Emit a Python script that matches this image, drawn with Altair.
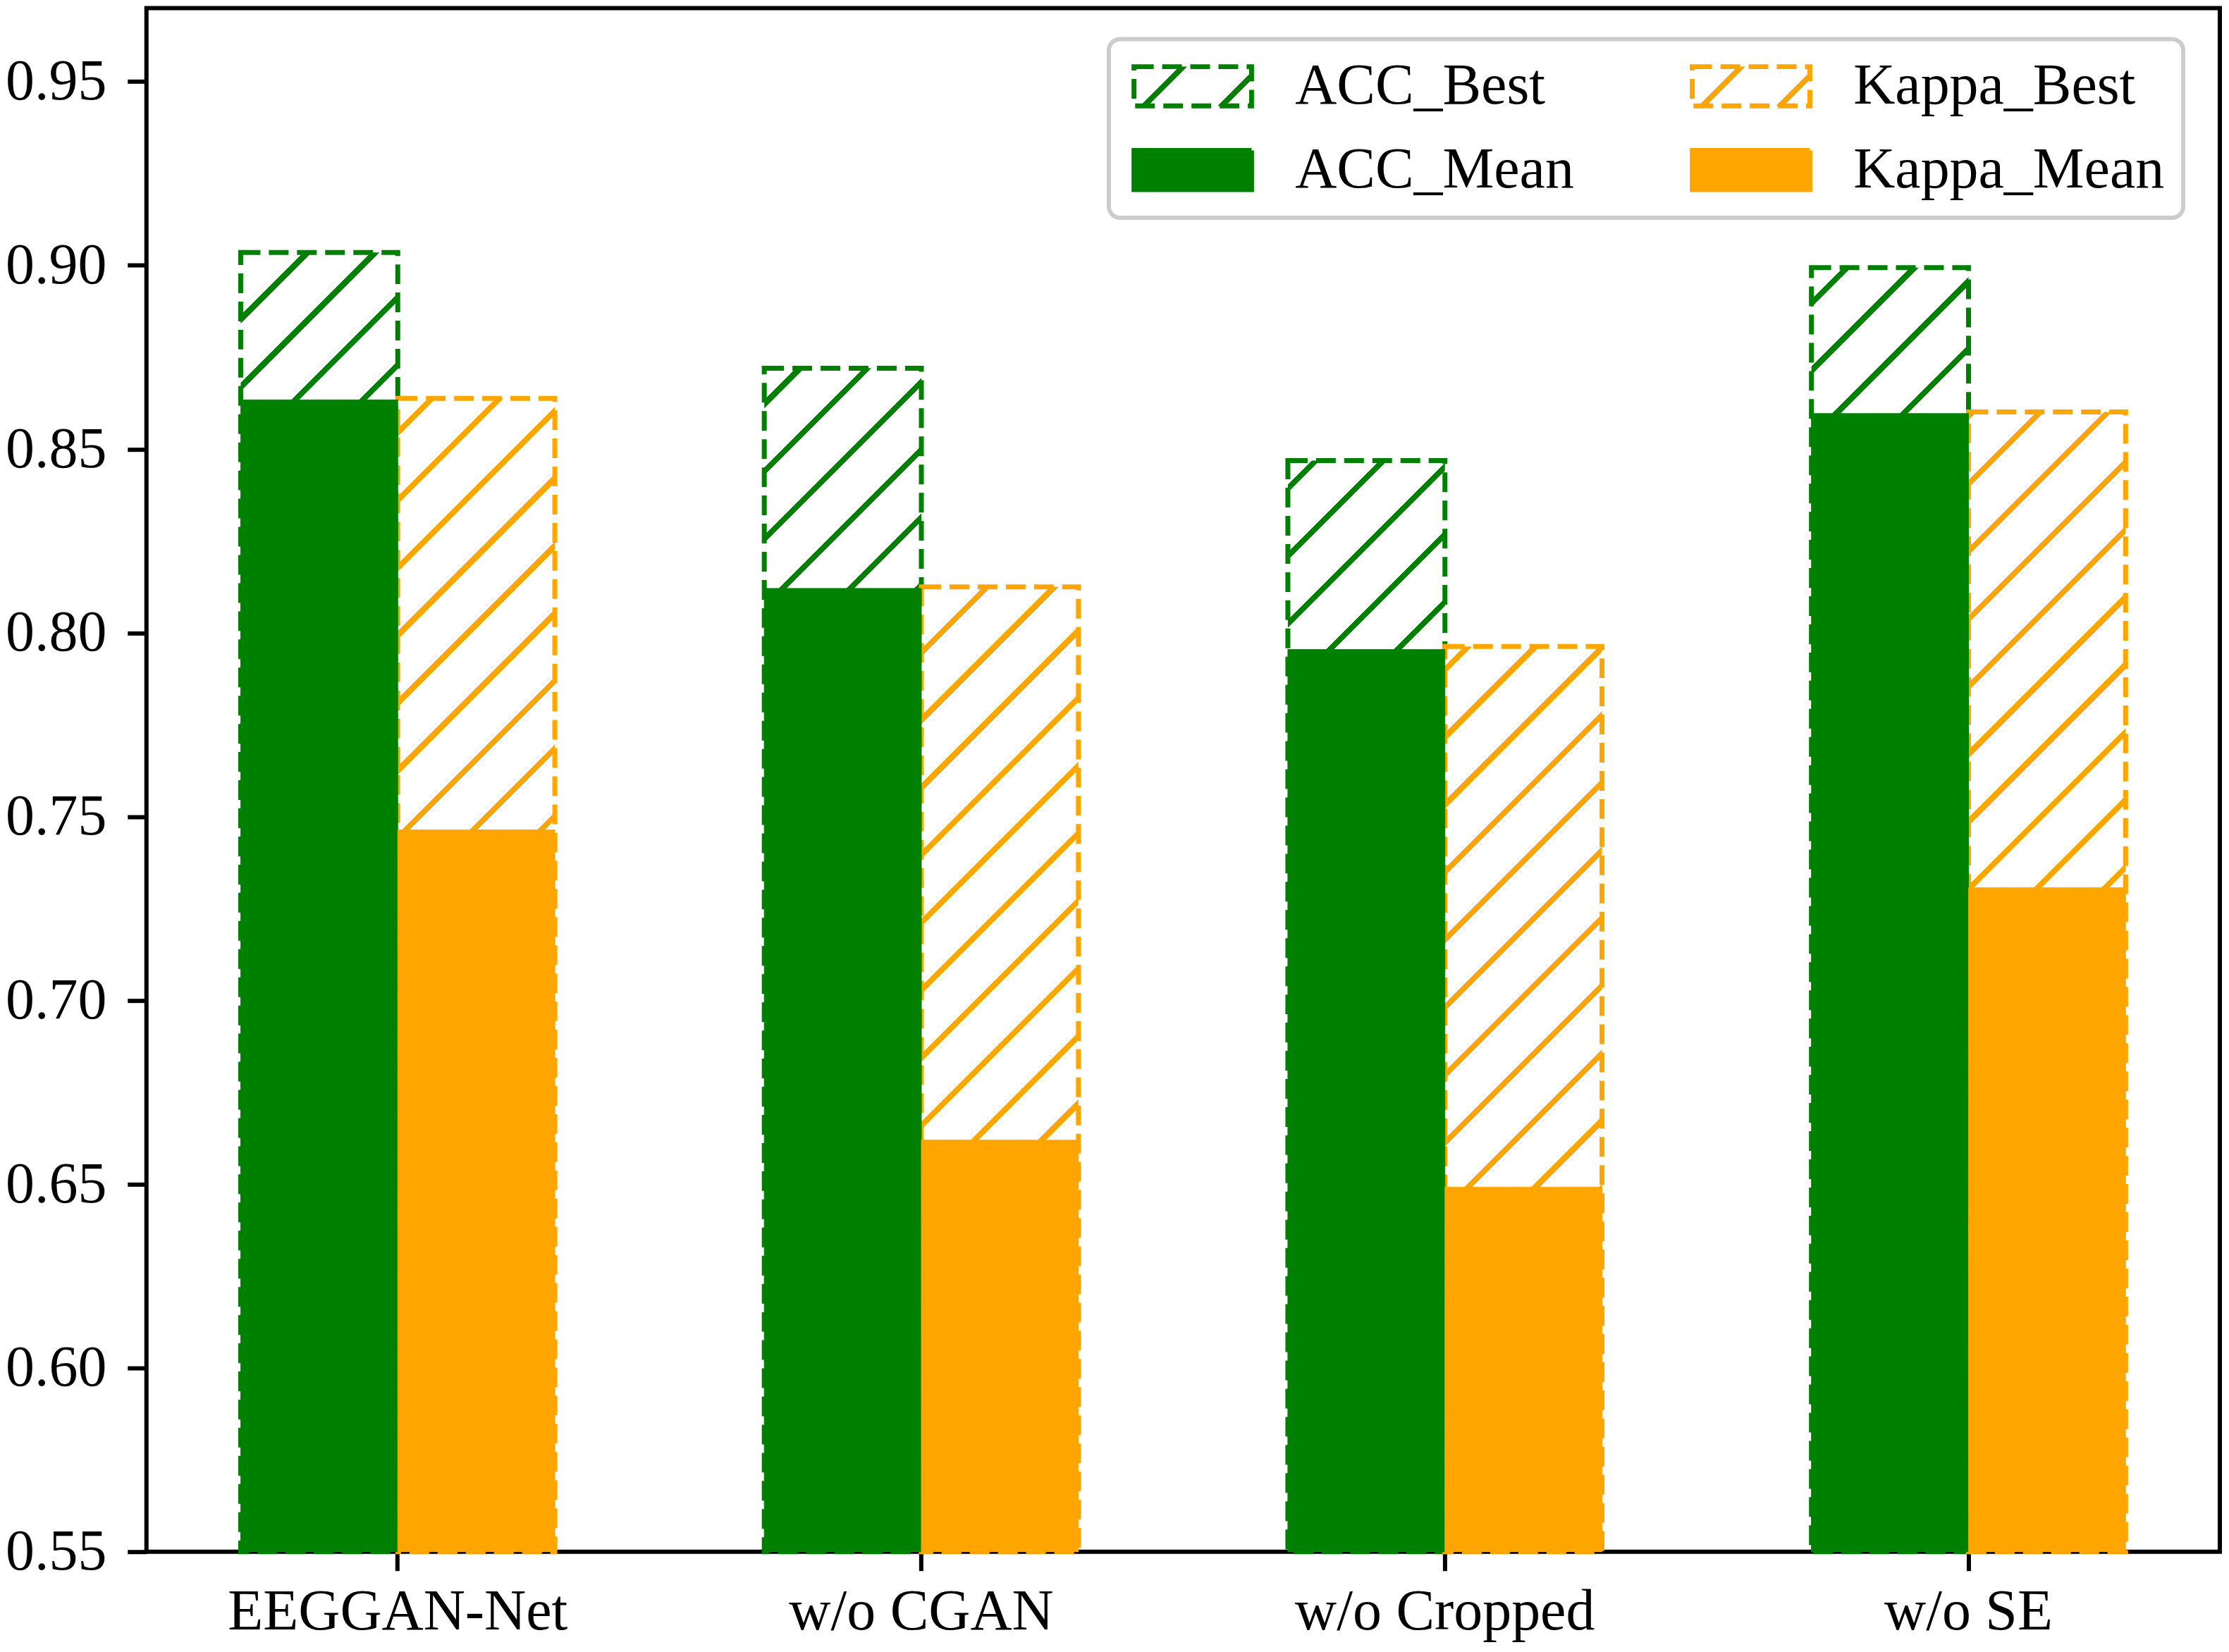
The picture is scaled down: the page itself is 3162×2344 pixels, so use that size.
import math
import altair as alt
import pandas as pd

# ---------------- data ----------------
groups = ["EEGGAN-Net", "w/o CGAN", "w/o Cropped", "w/o SE"]
metrics = ["ACC", "Kappa"]
acc_best = [0.9035, 0.8720, 0.8469, 0.8994]
acc_mean = [0.8634, 0.8121, 0.7955, 0.8597]
kappa_best = [0.8638, 0.8125, 0.7963, 0.8601]
kappa_mean = [0.7464, 0.6620, 0.6492, 0.7307]
series_names = ["ACC_Best", "ACC_Mean", "Kappa_Best", "Kappa_Mean"]
y_ticks = [0.55, 0.60, 0.65, 0.70, 0.75, 0.80, 0.85, 0.90, 0.95]

# ---------------- style ----------------
GREEN = "#008000"
ORANGE = "#FFA500"
FONT = "Liberation Serif"
FS = 82
W, H = 2945, 2193
Y_MIN, Y_MAX = 0.55, 0.97
P_INNER, P_OUTER = 0.4, 0.18
HATCH_SPACING = 96.0   # px between hatch lines (horizontal / vertical)
HATCH_WIDTH = 8.0      # px perpendicular line width
DASH = [28, 12]
EDGE_W = 7
SYM_W = 167.0          # legend symbol width (px)
SYM_R = SYM_W / 6.0    # symbol path spans -3..3 by -1..1


def hatch(x0, y0, w, h, color, spacing=HATCH_SPACING, width=HATCH_WIDTH):
    """Diagonal '/' hatch as a hard-stop linear gradient over a w x h box."""
    a = (w + h) / (w * w + h * h)
    span = w + h
    d = width * math.sqrt(2) / span
    stops = [{"offset": 0, "color": "white"}]
    k0 = int(math.floor((x0 + y0) / spacing)) - 1
    k1 = int(math.ceil((x0 + w + y0 + h) / spacing)) + 1
    for k in range(k0, k1 + 1):
        c = (k * spacing - x0 - y0) / span
        lo, hi = max(0.0, c - d / 2), min(1.0, c + d / 2)
        if hi <= 0 or lo >= 1:
            continue
        lo, hi = round(lo, 6), round(hi, 6)
        stops += [{"offset": lo, "color": "white"}, {"offset": lo, "color": color},
                  {"offset": hi, "color": color}, {"offset": hi, "color": "white"}]
    stops.append({"offset": 1, "color": "white"})
    return {"gradient": "linear", "x1": 0, "y1": 0,
            "x2": round(a * w, 6), "y2": round(a * h, 6), "stops": stops}


def bar_hatch(i, j, top_value, color):
    step = W / (len(groups) - P_INNER + 2 * P_OUTER)
    bw = step * (1 - P_INNER) / 2.0
    x0 = P_OUTER * step + i * step + j * bw
    y0 = H * (Y_MAX - top_value) / (Y_MAX - Y_MIN)
    return hatch(x0, y0, bw, H - y0, color)


def gradient_expr(g):
    stops = ",".join("{offset:%s,color:'%s'}" % (s["offset"], s["color"]) for s in g["stops"])
    return alt.ExprRef(expr="{gradient:'linear',x1:%s,y1:%s,x2:%s,y2:%s,stops:[%s]}" % (
        g["x1"], g["y1"], g["x2"], g["y2"], stops))


xscale = alt.Scale(domain=groups, paddingInner=P_INNER, paddingOuter=P_OUTER)
xoscale = alt.Scale(domain=metrics, paddingInner=0, paddingOuter=0)
yscale = alt.Scale(domain=[Y_MIN, Y_MAX], nice=False, zero=False)

xaxis = alt.Axis(title=None, labelFont=FONT, labelFontSize=FS, labelColor="black",
                 labelAngle=0, tickColor="black", tickSize=27, tickWidth=6,
                 labelPadding=18, domain=False, grid=False, labelLimit=1000)
yaxis = alt.Axis(title=None, values=y_ticks, format=".2f", labelFont=FONT,
                 labelFontSize=FS, labelColor="black", tickColor="black",
                 tickSize=27, tickWidth=6, labelPadding=30, domain=False,
                 grid=False, labelLimit=1000)


def enc(chart):
    return chart.encode(
        x=alt.X("group:N", scale=xscale, axis=xaxis, sort=groups),
        xOffset=alt.XOffset("metric:N", scale=xoscale, sort=metrics),
        y=alt.Y("value:Q", scale=yscale, axis=yaxis),
        y2=alt.Y2(datum=Y_MIN),
    )


layers = []
for i, g in enumerate(groups):
    for j, (m, vals, col) in enumerate([("ACC", acc_best, GREEN), ("Kappa", kappa_best, ORANGE)]):
        df = pd.DataFrame({"group": [g], "metric": [m], "value": [vals[i]]})
        layers.append(enc(alt.Chart(df).mark_bar(
            fill=bar_hatch(i, j, vals[i], col),
            stroke=col, strokeWidth=EDGE_W, strokeDash=DASH)))

mean_df = pd.DataFrame({
    "group": groups * 2,
    "metric": ["ACC"] * 4 + ["Kappa"] * 4,
    "value": acc_mean + kappa_mean,
    "series": ["ACC_Mean"] * 4 + ["Kappa_Mean"] * 4,
})

sym_h = 2 * SYM_R
leg_fill = [
    gradient_expr(hatch(40, 0, SYM_W, sym_h, GREEN, spacing=110)),
    GREEN,
    gradient_expr(hatch(40, 0, SYM_W, sym_h, ORANGE, spacing=110)),
    ORANGE,
]
x_signal = 2 * SYM_R + EDGE_W
leg = alt.Legend(title=None, orient="none", legendX=1367, legendY=44, columns=2,
                 direction="vertical",
                 symbolType="M-3,-1H3V1H-3Z", symbolSize=(2 * SYM_R) ** 2,
                 symbolOffset=SYM_W / 2 - x_signal / 2,
                 symbolStrokeWidth=EDGE_W, symbolOpacity=1,
                 labelFont=FONT, labelFontSize=FS, labelColor="black",
                 labelOffset=SYM_W - x_signal, labelLimit=1000,
                 columnPadding=153, rowPadding=35, padding=26, cornerRadius=16,
                 strokeColor="#cccccc", fillColor="white")

mean_layer = alt.Chart(mean_df).mark_bar(strokeWidth=1).encode(
    x=alt.X("group:N", scale=xscale, axis=xaxis, sort=groups),
    xOffset=alt.XOffset("metric:N", scale=xoscale, sort=metrics),
    y=alt.Y("value:Q", scale=yscale, axis=yaxis),
    y2=alt.Y2(datum=Y_MIN),
    fill=alt.Fill("series:N", legend=leg,
                  scale=alt.Scale(domain=series_names, range=leg_fill)),
    stroke=alt.Stroke("series:N", legend=leg,
                      scale=alt.Scale(domain=series_names, range=[GREEN, GREEN, ORANGE, ORANGE])),
    strokeDash=alt.StrokeDash("series:N", legend=leg,
                              scale=alt.Scale(domain=series_names,
                                              range=[DASH, [1, 0], DASH, [1, 0]])),
)
layers.append(mean_layer)

chart = alt.layer(*layers).properties(
    width=W, height=H,
    autosize=alt.AutoSizeParams(type="none"),
    padding={"left": 200, "top": 2, "right": 5, "bottom": 135},
).configure_view(stroke="black", strokeWidth=6).configure_legend(strokeWidth=6)

chart.save("out.html", embed_options={"renderer": "svg", "actions": False})
